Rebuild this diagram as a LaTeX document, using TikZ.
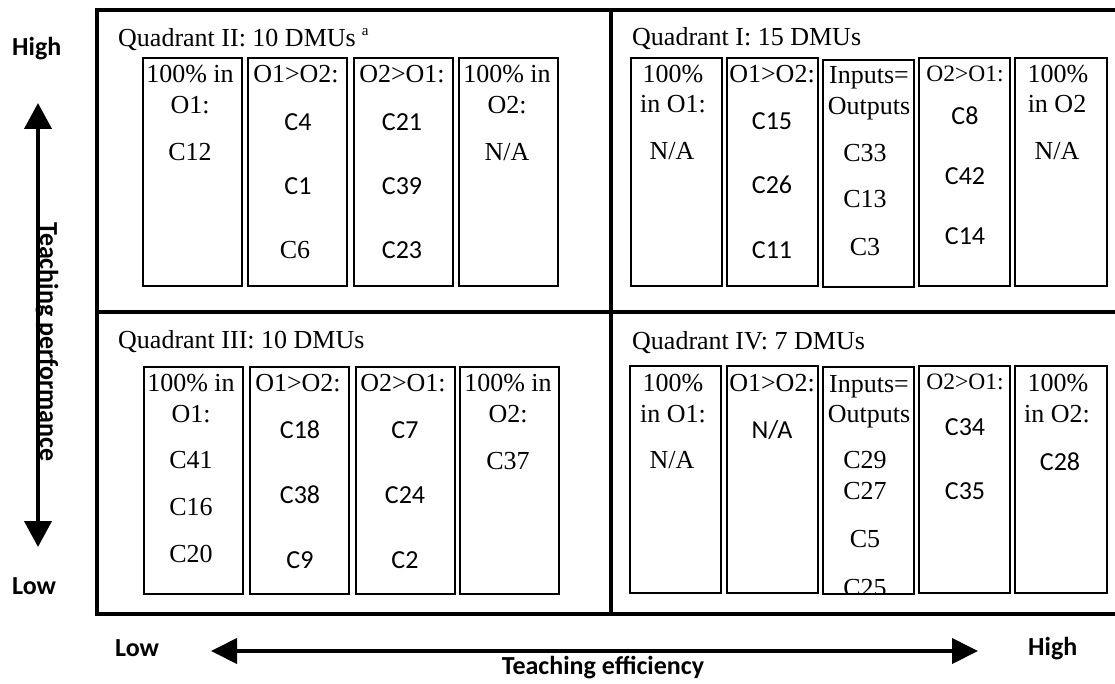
\documentclass[tikz,border=0pt]{standalone}
\usepackage{fontspec}
\setmainfont{Liberation Serif}
\newfontfamily\calfont{Carlito}
\usetikzlibrary{arrows.meta,fit}
\tikzset{
  tnr/.style={font=\fontsize{26}{30}\selectfont, anchor=base, inner sep=0pt},
  tnrs/.style={font=\fontsize{23.5}{28}\selectfont, anchor=base, inner sep=0pt},
  cal/.style={font=\calfont\fontsize{26}{30}\selectfont, anchor=base, inner sep=0pt},
  lab/.style={font=\calfont\bfseries\fontsize{26}{30}\selectfont, anchor=base west, inner sep=0pt},
  ttl/.style={font=\fontsize{26}{30}\selectfont, anchor=base west, inner sep=0pt},
  bx/.style={draw, line width=1.7pt, inner sep=0pt},
  frame/.style={line width=4pt},
  axis/.style={line width=4pt, {Triangle[length=26pt,width=27pt]}-{Triangle[length=26pt,width=27pt]}},
  haxis/.style={line width=4pt, {Triangle[length=26pt,width=25pt]}-{Triangle[length=26pt,width=25pt]}}
}
\begin{document}
\begin{tikzpicture}[x=1pt,y=-1pt]
\useasboundingbox (0,0) rectangle (1115,684);
\fill[white] (0,0) rectangle (1115,684);
% frame
\coordinate (ftl) at (97,10);
\coordinate (fbr) at (1125,614);
\coordinate (vtop) at (611,10);
\coordinate (vbot) at (611,614);
\coordinate (hl) at (97,312);
\coordinate (hr) at (1125,312);
\draw[frame] (ftl) rectangle (fbr);
\draw[frame] (vtop) -- (vbot);
\draw[frame] (hl) -- (hr);

% axes
\coordinate (vt) at (38,103);
\coordinate (vb) at (38,547);
\draw[axis] (vb) -- (vt);
\coordinate (hlft) at (211,651);
\coordinate (hrgt) at (978,651);
\draw[haxis] (hlft) -- (hrgt);
\node[lab] (hiL) at (12,56) {High};
\node[lab] (loL) at (12,594) {Low};
\node[lab] (loB) at (115,656) {Low};
\node[lab] (hiB) at (1028,655) {High};
\node[lab, anchor=base] (teff) at (603,674) {Teaching efficiency};
\node[lab, anchor=base, rotate=-90] (tperf) at (40,342) {Teaching performance};

% titles
\node[ttl] (t2) at (118,47) {Quadrant II: 10 DMUs\hspace{6pt}\raisebox{11pt}{\fontsize{15}{15}\selectfont a}};
\node[ttl] (t1) at (632,46) {Quadrant I: 15 DMUs};
\node[ttl] (t3) at (118,348) {Quadrant III: 10 DMUs};
\node[ttl] (t4) at (632,349) {Quadrant IV: 7 DMUs};

% ---------- Quadrant II ----------
\node[bx, fit={(143,58)(242,286)}] (q2a) {};
\node[bx, fit={(248,58)(347,286)}] (q2b) {};
\node[bx, fit={(354,58)(453,286)}] (q2c) {};
\node[bx, fit={(459,58)(558,286)}] (q2d) {};
\node[tnr] (q2a1) at (190,83) {100\% in};
\node[tnr] (q2a2) at (190,114) {O1:};
\node[tnr] (q2a3) at (190,161) {C12};
\node[tnr] (q2b1) at (296,83) {O1>O2:};
\node[cal] (q2b2) at (298,131) {C4};
\node[cal] (q2b3) at (298,195) {C1};
\node[tnr] (q2b4) at (295,259) {C6};
\node[tnr] (q2c1) at (402,83) {O2>O1:};
\node[cal] (q2c2) at (402,131) {C21};
\node[cal] (q2c3) at (402,195) {C39};
\node[cal] (q2c4) at (402,259) {C23};
\node[tnr] (q2d1) at (507,83) {100\% in};
\node[tnr] (q2d2) at (507,114) {O2:};
\node[tnr] (q2d3) at (507,161) {N/A};

% ---------- Quadrant I ----------
\node[bx, fit={(631,58)(722,286)}] (q1a) {};
\node[bx, fit={(727,58)(818,286)}] (q1b) {};
\node[bx, fit={(823,60)(914,287)}] (q1c) {};
\node[bx, fit={(919,58)(1010,286)}] (q1d) {};
\node[bx, fit={(1015,58)(1107,286)}] (q1e) {};
\node[tnr] (q1a1) at (673,83) {100\%};
\node[tnr] (q1a2) at (673,113) {in O1:};
\node[tnr] (q1a3) at (672,160) {N/A};
\node[tnr] (q1b1) at (772,83) {O1>O2:};
\node[cal] (q1b2) at (772,130) {C15};
\node[cal] (q1b3) at (772,194) {C26};
\node[cal] (q1b4) at (772,259) {C11};
\node[tnr] (q1c1) at (869,84) {Inputs=};
\node[tnr] (q1c2) at (869,115) {Outputs};
\node[tnr] (q1c3) at (865,162) {C33};
\node[tnr] (q1c4) at (865,208) {C13};
\node[tnr] (q1c5) at (865,256) {C3};
\node[tnrs] (q1d1) at (965,82) {O2>O1:};
\node[cal] (q1d2) at (965,125) {C8};
\node[cal] (q1d3) at (965,185) {C42};
\node[cal] (q1d4) at (965,245) {C14};
\node[tnr] (q1e1) at (1058,83) {100\%};
\node[tnr] (q1e2) at (1057,113) {in O2};
\node[tnr] (q1e3) at (1057,160) {N/A};

% ---------- Quadrant III ----------
\node[bx, fit={(144,367)(243,594)}] (q3a) {};
\node[bx, fit={(250,367)(349,594)}] (q3b) {};
\node[bx, fit={(356,367)(455,594)}] (q3c) {};
\node[bx, fit={(460,367)(559,594)}] (q3d) {};
\node[tnr] (q3a1) at (191,391) {100\% in};
\node[tnr] (q3a2) at (191,422) {O1:};
\node[tnr] (q3a3) at (191,468) {C41};
\node[tnr] (q3a4) at (191,515) {C16};
\node[tnr] (q3a5) at (191,562) {C20};
\node[tnr] (q3b1) at (298,391) {O1>O2:};
\node[cal] (q3b2) at (300,438) {C18};
\node[cal] (q3b3) at (300,503) {C38};
\node[cal] (q3b4) at (300,568) {C9};
\node[tnr] (q3c1) at (403,391) {O2>O1:};
\node[cal] (q3c2) at (405,438) {C7};
\node[cal] (q3c3) at (405,503) {C24};
\node[cal] (q3c4) at (405,568) {C2};
\node[tnr] (q3d1) at (508,391) {100\% in};
\node[tnr] (q3d2) at (508,422) {O2:};
\node[tnr] (q3d3) at (508,469) {C37};

% ---------- Quadrant IV ----------
\begin{scope}
\clip (824,368) rectangle (913,593);
\node[tnr] (q4c6) at (865,596) {C25};
\end{scope}
\node[bx, fit={(630,366)(721,593)}] (q4a) {};
\node[bx, fit={(727,366)(818,593)}] (q4b) {};
\node[bx, fit={(823,367)(914,594)}] (q4c) {};
\node[bx, fit={(919,366)(1010,593)}] (q4d) {};
\node[bx, fit={(1015,366)(1107,593)}] (q4e) {};
\node[tnr] (q4a1) at (673,391) {100\%};
\node[tnr] (q4a2) at (673,422) {in O1:};
\node[tnr] (q4a3) at (672,468) {N/A};
\node[tnr] (q4b1) at (772,391) {O1>O2:};
\node[cal] (q4b2) at (772,438) {N/A};
\node[tnr] (q4c1) at (869,392) {Inputs=};
\node[tnr] (q4c2) at (869,422) {Outputs};
\node[tnr] (q4c3) at (865,468) {C29};
\node[tnr] (q4c4) at (865,499) {C27};
\node[tnr] (q4c5) at (865,547) {C5};
\node[tnrs] (q4d1) at (965,389) {O2>O1:};
\node[cal] (q4d2) at (965,435) {C34};
\node[cal] (q4d3) at (965,499) {C35};
\node[tnr] (q4e1) at (1058,391) {100\%};
\node[tnr] (q4e2) at (1057,422) {in O2:};
\node[cal] (q4e3) at (1060,470) {C28};
\end{tikzpicture}
\end{document}
